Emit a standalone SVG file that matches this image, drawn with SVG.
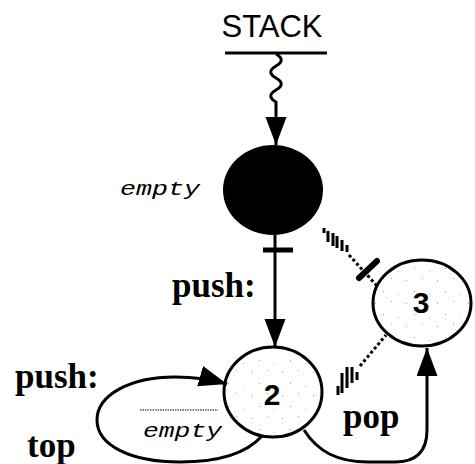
<svg xmlns="http://www.w3.org/2000/svg" width="475" height="464" viewBox="0 0 475 464">
<defs>
<style>
.lbl{font-family:"Liberation Serif","Times New Roman",serif;font-weight:bold;font-size:35px;fill:#000}
.mono{font-family:"Liberation Mono","Courier New",monospace;font-style:italic;font-size:21px;fill:#000}
.num{font-family:"Liberation Sans",Arial,sans-serif;font-size:30px;font-weight:bold;fill:#000;text-anchor:middle}
.edge{fill:none;stroke:#000;stroke-width:3}
.hatch{fill:none;stroke:#000;stroke-width:3;stroke-linecap:butt}
.dash{fill:none;stroke:#000;stroke-width:3;stroke-dasharray:3 2.5}
.state{fill:url(#speckle);stroke:#000;stroke-width:3}
</style>
<pattern id="speckle" patternUnits="userSpaceOnUse" width="31" height="23">
<rect width="31" height="23" fill="#fff"/>
<rect x="3" y="4" width="1" height="1" fill="#999"/>
<rect x="19" y="2" width="1" height="1" fill="#aaa"/>
<rect x="11" y="15" width="1" height="1" fill="#999"/>
<rect x="26" y="18" width="1" height="1" fill="#bbb"/>
</pattern>
<marker id="arr" markerUnits="userSpaceOnUse" markerWidth="30" markerHeight="22" refX="28" refY="10.5" orient="auto">
<path d="M0,0 L28,10.5 L0,21 z" fill="#000"/>
</marker>
</defs>

<g id="stack">
<text x="272" y="37" font-family="Liberation Sans, Arial, sans-serif" font-size="31" text-anchor="middle">STACK</text>
<line x1="225" y1="53" x2="327" y2="53" stroke="#000" stroke-width="3"/>
</g>

<g id="node-empty">
<ellipse cx="273" cy="190" rx="50" ry="45" fill="#000"/>
<text class="mono" x="120" y="195" textLength="80" lengthAdjust="spacingAndGlyphs">empty</text>
</g>

<g id="node-2">
<ellipse class="state" cx="273" cy="392" rx="49" ry="45"/>
<text class="num" x="272" y="405">2</text>
</g>

<g id="node-3">
<ellipse class="state" cx="422" cy="303" rx="49" ry="43"/>
<text class="num" x="421" y="313">3</text>
</g>

<g id="connectors">
<path class="edge" d="M276,54 c7,4 7,8 0,12 c-7,4 -7,8 0,12 c7,4 7,8 0,12 c-7,4 -7,8 0,12 L276,145" marker-end="url(#arr)"/>
<path class="edge" d="M275,235 L275,347" marker-end="url(#arr)"/>
<line x1="263" y1="250" x2="293" y2="250" stroke="#000" stroke-width="5"/>
<g>
<line class="hatch" x1="324" y1="228" x2="324" y2="233"/>
<line class="hatch" x1="328" y1="231" x2="328" y2="242"/>
<line class="hatch" x1="333" y1="233" x2="333" y2="246"/>
<line class="hatch" x1="337" y1="236" x2="337" y2="248"/>
<line class="hatch" x1="342" y1="240" x2="342" y2="251"/>
<line class="hatch" x1="347" y1="245" x2="347" y2="252"/>
<path class="dash" d="M349,255 L378,287"/>
<line x1="359" y1="278" x2="377" y2="261" stroke="#000" stroke-width="6" stroke-linecap="round"/>
</g>
<g>
<line class="hatch" x1="338" y1="386" x2="338" y2="395"/>
<line class="hatch" x1="342" y1="373" x2="342" y2="393"/>
<line class="hatch" x1="347" y1="367" x2="347" y2="388"/>
<line class="hatch" x1="352" y1="367" x2="352" y2="383"/>
<line class="hatch" x1="357" y1="372" x2="357" y2="380"/>
<path class="dash" d="M360,366 L386,335"/>
</g>
<path class="edge" d="M304,430 C318,452 338,462 368,462 L395,462 C418,462 427,450 427,430 L427,348" marker-end="url(#arr)"/>
<path class="edge" d="M262,436 C245,455 215,462 180,462 C130,462 97,445 97,420 C97,395 130,377 175,377 C195,377 210,379 227,384" marker-end="url(#arr)"/>
<line x1="140" y1="410" x2="218" y2="410" stroke="#000" stroke-width="1" stroke-dasharray="1.5 1"/>
</g>

<g id="labels">
<text class="lbl" x="172" y="297">push:</text>
<text class="lbl" x="15" y="388">push:</text>
<text class="lbl" x="343" y="428">pop</text>
<text class="lbl" x="27" y="457">top</text>
<text class="mono" x="143" y="437" textLength="79" lengthAdjust="spacingAndGlyphs">empty</text>
</g>
</svg>
